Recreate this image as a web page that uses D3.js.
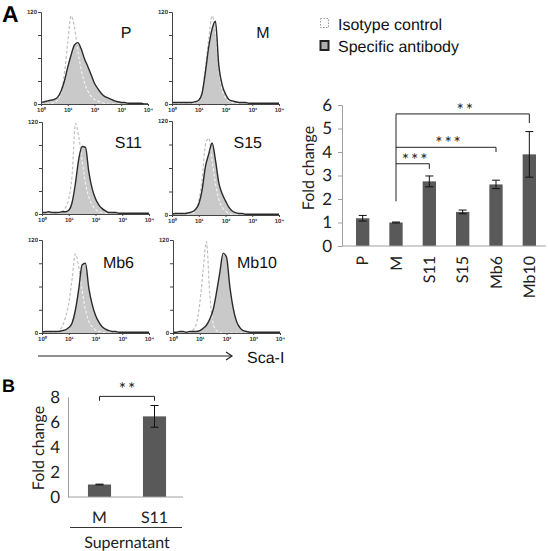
<!DOCTYPE html>
<html><head><meta charset="utf-8">
<script src="https://cdn.jsdelivr.net/npm/d3@7"></script>
<style>body{margin:0;background:#fff}svg{display:block}</style>
</head><body>
<script>
// ---------- DATA ----------
// histogram x grid in log10 units (fluorescence 10^0 .. 10^4)
const logGrid = d3.range(0, 4.0001, 0.125);
const sampleNames = ["P", "M", "S11", "S15", "Mb6", "Mb10"];
// Specific antibody (filled) counts
const specP   = [2,3,4,5,6,9,17,30,48,64,77,80,72,59,49,38,27,20,14,10,8,6,4,3,2,2,1,1,1,1,1,0,0];
const specM   = [2,2,2,2,2,2,2,3,5,14,42,75,98,108,50,25,13,6,4,3,2,2,2,1,1,1,1,1,1,1,1,1,1];
const specS11 = [2,2,3,2,2,2,3,3,5,15,40,72,88,87,55,33,20,12,7,4,2,2,2,1,1,1,1,1,1,1,1,1,1];
const specS15 = [1,2,2,2,2,3,4,7,14,32,62,78,92,70,41,27,18,10,5,3,2,2,1,1,1,1,1,1,1,1,1,1,1];
const specMb6 = [1,2,2,2,2,2,3,4,7,13,30,57,88,90,58,37,23,14,8,5,3,2,2,1,1,1,1,1,1,1,1,1,1];
const specMb10= [1,1,2,2,1,2,2,2,3,6,10,18,30,52,78,103,98,60,32,15,7,3,2,1,1,1,1,1,1,1,1,1,1];
// Isotype control (dashed) counts
const isoP    = [0,0,0,1,2,5,15,40,80,115,100,70,45,28,17,10,6,4,2,1,0,0,0,0,0,0,0,0,0,0,0,0,0];
const isoM    = [0,0,0,0,0,0,1,2,4,15,48,85,115,95,45,18,8,4,2,1,0,0,0,0,0,0,0,0,0,0,0,0,0];
const isoS11  = [0,0,0,0,0,1,3,8,20,50,118,100,70,40,22,12,6,3,2,1,0,0,0,0,0,0,0,0,0,0,0,0,0];
const isoS15  = [0,0,0,0,0,0,2,6,18,45,90,98,70,40,20,10,5,2,1,0,0,0,0,0,0,0,0,0,0,0,0,0,0];
const isoMb6  = [0,0,0,0,0,2,8,20,38,70,102,85,55,30,15,8,4,2,1,0,0,0,0,0,0,0,0,0,0,0,0,0,0];
const isoMb10 = [0,0,0,0,0,1,4,12,38,80,118,50,12,3,1,0,0,0,0,0,0,0,0,0,0,0,0,0,0,0,0,0,0];
const specSeries = [specP, specM, specS11, specS15, specMb6, specMb10];
const isoSeries  = [isoP, isoM, isoS11, isoS15, isoMb6, isoMb10];
const histYTicks = [0, 30, 60, 90, 120];
const histXTicks = [1, 10, 100, 1000, 10000];
const histXLabels = ["10\u2070", "10\u00b9", "10\u00b2", "10\u00b3", "10\u2074"];

// Bar chart A
const barCats = ["P", "M", "S11", "S15", "Mb6", "Mb10"];
const barVals = [1.18, 1.0, 2.75, 1.45, 2.62, 3.9];
const barErrs = [0.12, 0.02, 0.23, 0.08, 0.18, 0.97];
const barTicks = [0, 1, 2, 3, 4, 5, 6];
const sigA = [
  {from: "M", to: "S11",  level: 3.5,  drop: 3.28, label: "***"},
  {from: "M", to: "Mb6",  level: 4.2,  drop: 4.0,  label: "***"},
  {from: "M", to: "Mb10", level: 5.62, drop: 5.23, label: "**"}
];
const sigAStemBottom = 1.9;

// Bar chart B
const bCats = ["M", "S11"];
const bVals = [1.0, 6.45];
const bErrs = [0.03, 0.87];
const bTicks = [0, 2, 4, 6, 8];
const sigB = {from: "M", to: "S11", level: 8.05, drop: 7.7, label: "**"};

// ---------- DRAW ----------
const W = 548, H = 551;
const svg = d3.select("body").append("svg").attr("width", W).attr("height", H)
  .style("text-rendering", "geometricPrecision");
const defs = svg.append("defs");
const ARIAL = "'Liberation Sans', Arial, sans-serif";
const CAL = "Lato, 'Open Sans', sans-serif";

// Panel letters
svg.append("text").attr("x", 2).attr("y", 22).text("A")
  .style("font-family", ARIAL).style("font-weight", "bold").style("font-size", "23px");
svg.append("text").attr("x", 2).attr("y", 392).text("B")
  .style("font-family", ARIAL).style("font-weight", "bold").style("font-size", "18px");

// Histogram panels
const panels = [
  {x0: 41, y0: 12, y1: 104, lx: 126, ly: 38, anchor: "middle"},
  {x0: 172, y0: 12, y1: 104, lx: 263, ly: 38, anchor: "middle"},
  {x0: 42, y0: 122, y1: 214, lx: 142, ly: 148, anchor: "end"},
  {x0: 172, y0: 121, y1: 215, lx: 262, ly: 148, anchor: "end"},
  {x0: 42, y0: 240, y1: 333, lx: 134, ly: 268, anchor: "end"},
  {x0: 173, y0: 240, y1: 333, lx: 277, ly: 268, anchor: "end"}
];
const HW = 107;

panels.forEach((p, i) => {
  const g = svg.append("g");
  const x = d3.scaleLog().domain([1, 10000]).range([p.x0, p.x0 + HW]);
  const y = d3.scaleLinear().domain([0, 120]).range([p.y1, p.y0]);
  const spec = logGrid.map((l, k) => [Math.pow(10, l), specSeries[i][k]]);
  const iso = logGrid.map((l, k) => [Math.pow(10, l), isoSeries[i][k]]);
  const area = d3.area().x(d => x(d[0])).y0(y(0)).y1(d => y(d[1])).curve(d3.curveMonotoneX);
  const line = d3.line().x(d => x(d[0])).y(d => y(d[1])).curve(d3.curveMonotoneX);

  defs.append("clipPath").attr("id", "clip" + i).append("path").attr("d", area(spec));

  g.append("path").attr("d", area(spec)).attr("fill", "#c9c9c9");
  g.append("path").attr("d", line(iso)).attr("fill", "none")
    .attr("stroke", "#c0c0c0").attr("stroke-width", 1.2).attr("stroke-dasharray", "3,2");
  g.append("path").attr("d", line(iso)).attr("fill", "none").attr("clip-path", "url(#clip" + i + ")")
    .attr("stroke", "#f4f4f4").attr("stroke-width", 1.2).attr("stroke-dasharray", "3,2");
  g.append("path").attr("d", line(spec)).attr("fill", "none")
    .attr("stroke", "#2a2a2a").attr("stroke-width", 1.4);

  // axes
  const ya = g.append("g").attr("transform", `translate(${p.x0},0)`)
    .call(d3.axisLeft(y).tickValues(histYTicks).tickSize(3).tickFormat(d => (d === 0 || d === 120) ? d : ""));
  const xa = g.append("g").attr("transform", `translate(0,${p.y1})`)
    .call(d3.axisBottom(x).tickValues(histXTicks).tickSize(2).tickFormat((d, k) => histXLabels[k]));
  [ya, xa].forEach(a => {
    a.select(".domain").attr("stroke", "#444").attr("stroke-width", 1);
    a.selectAll(".tick line").attr("stroke", "#444");
    a.selectAll("text").style("font-family", ARIAL).style("font-size", "6px")
      .style("font-weight", "bold").attr("fill", "#333");
  });
  ya.selectAll("text").attr("x", -4);
  xa.selectAll("text").attr("y", 4);

  g.append("text").attr("x", p.lx).attr("y", p.ly).attr("text-anchor", p.anchor)
    .text(sampleNames[i]).style("font-family", ARIAL).style("font-size", "16px").attr("fill", "#111");
});

// Sca-I arrow
svg.append("line").attr("x1", 38).attr("x2", 232).attr("y1", 356).attr("y2", 356)
  .attr("stroke", "#222").attr("stroke-width", 1.2);
svg.append("path").attr("d", "M226,352 L232,356 L226,360").attr("fill", "none")
  .attr("stroke", "#222").attr("stroke-width", 1.2);
svg.append("text").attr("x", 247).attr("y", 363).text("Sca-I")
  .style("font-family", ARIAL).style("font-size", "16px").attr("fill", "#111");

// Legend
const leg = svg.append("g");
leg.append("rect").attr("x", 320.5).attr("y", 18.5).attr("width", 8).attr("height", 9)
  .attr("fill", "none").attr("stroke", "#999").attr("stroke-dasharray", "1.5,1.5");
leg.append("rect").attr("x", 320.5).attr("y", 41).attr("width", 8).attr("height", 9)
  .attr("fill", "#b0b0b0").attr("stroke", "#222").attr("stroke-width", 2);
leg.append("text").attr("x", 338).attr("y", 30).text("Isotype control")
  .style("font-family", ARIAL).style("font-size", "16px").attr("fill", "#111");
leg.append("text").attr("x", 338).attr("y", 52).text("Specific antibody")
  .style("font-family", ARIAL).style("font-size", "16px").attr("fill", "#111");

// Bar chart A
(function () {
  const g = svg.append("g");
  const x = d3.scaleBand().domain(barCats).range([346, 546]).paddingInner(0.6).paddingOuter(0.3);
  const y = d3.scaleLinear().domain([0, 6]).range([246, 105]);
  const cx = c => x(c) + x.bandwidth() / 2;
  g.selectAll("rect.bar").data(barCats).join("rect").attr("class", "bar")
    .attr("x", c => x(c)).attr("width", x.bandwidth())
    .attr("y", (c, i) => y(barVals[i])).attr("height", (c, i) => y(0) - y(barVals[i]))
    .attr("fill", "#595959");
  barCats.forEach((c, i) => {
    const t = y(barVals[i] + barErrs[i]), b = y(barVals[i] - barErrs[i]);
    g.append("line").attr("x1", cx(c)).attr("x2", cx(c)).attr("y1", t).attr("y2", b).attr("stroke", "#111");
    [t, b].forEach(v => g.append("line").attr("x1", cx(c) - 4).attr("x2", cx(c) + 4)
      .attr("y1", v).attr("y2", v).attr("stroke", "#111"));
  });
  const ya = g.append("g").attr("transform", "translate(342,0)")
    .call(d3.axisLeft(y).tickValues(barTicks).tickSize(4).tickPadding(6).tickFormat(d3.format("d")));
  ya.select(".domain").attr("stroke", "#a0a0a0");
  ya.selectAll(".tick line").attr("stroke", "#a0a0a0");
  ya.selectAll("text").style("font-family", CAL).style("font-size", "17px").attr("fill", "#222");
  g.append("line").attr("x1", 342).attr("x2", 546).attr("y1", y(0)).attr("y2", y(0)).attr("stroke", "#a0a0a0");
  barCats.forEach(c => {
    g.append("text").attr("transform", `translate(${cx(c)},256) rotate(-90)`)
      .attr("text-anchor", "end").attr("dy", "0.35em").text(c)
      .style("font-family", CAL).style("font-size", "16px").attr("fill", "#222");
  });
  g.append("text").attr("transform", "translate(308,168) rotate(-90)").attr("text-anchor", "middle")
    .attr("dy", "0.35em").text("Fold change")
    .style("font-family", CAL).style("font-size", "16px").attr("fill", "#222");
  // significance
  const stemX = cx("M");
  g.append("line").attr("x1", stemX).attr("x2", stemX)
    .attr("y1", y(d3.max(sigA, s => s.level))).attr("y2", y(sigAStemBottom)).attr("stroke", "#222");
  sigA.forEach(s => {
    g.append("path").attr("d", `M${cx(s.from)},${y(s.level)} H${cx(s.to)} V${y(s.drop)}`)
      .attr("fill", "none").attr("stroke", "#222");
    g.append("text").attr("x", (cx(s.from) + cx(s.to)) / 2 + 3).attr("y", y(s.level) + 2)
      .attr("text-anchor", "middle").text(s.label).style("letter-spacing", "2px")
      .style("font-family", CAL).style("font-size", "17px").attr("fill", "#222");
  });
})();

// Bar chart B
(function () {
  const g = svg.append("g");
  const x = d3.scaleBand().domain(bCats).range([72, 182]).paddingInner(0.58).paddingOuter(0.29);
  const y = d3.scaleLinear().domain([0, 8]).range([497, 397]);
  const cx = c => x(c) + x.bandwidth() / 2;
  g.selectAll("rect.bar").data(bCats).join("rect").attr("class", "bar")
    .attr("x", c => x(c)).attr("width", x.bandwidth())
    .attr("y", (c, i) => y(bVals[i])).attr("height", (c, i) => y(0) - y(bVals[i]))
    .attr("fill", "#595959");
  bCats.forEach((c, i) => {
    const t = y(bVals[i] + bErrs[i]), b = y(bVals[i] - bErrs[i]);
    g.append("line").attr("x1", cx(c)).attr("x2", cx(c)).attr("y1", t).attr("y2", b).attr("stroke", "#111");
    [t, b].forEach(v => g.append("line").attr("x1", cx(c) - 4).attr("x2", cx(c) + 4)
      .attr("y1", v).attr("y2", v).attr("stroke", "#111"));
  });
  const ya = g.append("g").attr("transform", "translate(68,0)")
    .call(d3.axisLeft(y).tickValues(bTicks).tickSize(0).tickPadding(8).tickFormat(d3.format("d")));
  ya.select(".domain").attr("stroke", "#a0a0a0");
  ya.selectAll("text").style("font-family", CAL).style("font-size", "17px").attr("fill", "#222");
  g.append("line").attr("x1", 68).attr("x2", 183).attr("y1", y(0)).attr("y2", y(0)).attr("stroke", "#a0a0a0");
  bCats.forEach(c => g.append("text").attr("x", cx(c)).attr("y", 523).attr("text-anchor", "middle")
    .text(c).style("font-family", CAL).style("font-size", "16px").attr("fill", "#222"));
  g.append("line").attr("x1", 70).attr("x2", 182).attr("y1", 527.5).attr("y2", 527.5).attr("stroke", "#333");
  g.append("text").attr("x", 127).attr("y", 548).attr("text-anchor", "middle").text("Supernatant")
    .style("font-family", CAL).style("font-size", "16px").attr("fill", "#222");
  g.append("text").attr("transform", "translate(38,448) rotate(-90)").attr("text-anchor", "middle")
    .attr("dy", "0.35em").text("Fold change")
    .style("font-family", CAL).style("font-size", "16px").attr("fill", "#222");
  g.append("path").attr("d", `M${cx(sigB.from)},${y(sigB.drop)} V${y(sigB.level)} H${cx(sigB.to)} V${y(sigB.drop)}`)
    .attr("fill", "none").attr("stroke", "#222");
  g.append("text").attr("x", (cx(sigB.from) + cx(sigB.to)) / 2 + 1).attr("y", y(sigB.level) - 1)
    .attr("text-anchor", "middle").text(sigB.label).style("letter-spacing", "2px")
    .style("font-family", CAL).style("font-size", "17px").attr("fill", "#222");
})();
</script>
</body></html>
